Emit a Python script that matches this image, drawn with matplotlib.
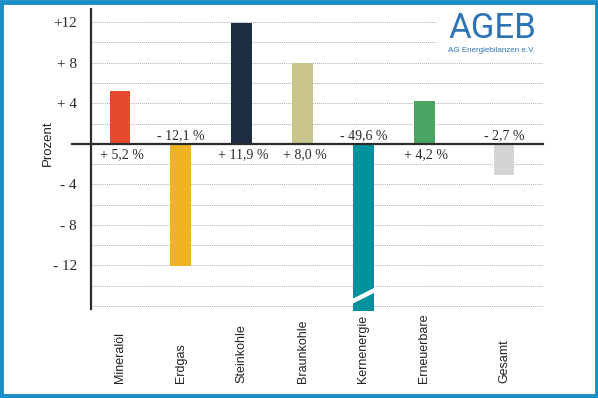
import numpy as np
import matplotlib.pyplot as plt
from matplotlib.patches import Rectangle

# data
categories = ['Mineralöl', 'Erdgas', 'Steinkohle', 'Braunkohle', 'Kernenergie', 'Erneuerbare', 'Gesamt']
positions = [0, 1, 2, 3, 4, 5, 6.31]
bar_values = [5.2, -12.1, 11.9, 8.0, -49.6, 4.2, -3.1]
value_labels = ['+ 5,2 %', '- 12,1 %', '+ 11,9 %', '+ 8,0 %', '- 49,6 %', '+ 4,2 %', '- 2,7 %']
colors = ['#e54a2f', '#f0b323', '#1c2d42', '#c9c48b', '#00919e', '#4aa462', '#d4d4d4']
ytick_vals = [12, 8, 4, -4, -8, -12]
ytick_labels = ['+12', '+ 8', '+ 4', '- 4', '- 8', '- 12']

serif = ['Liberation Serif', 'DejaVu Serif']
sans = ['Liberation Sans', 'DejaVu Sans']

fig = plt.figure(figsize=(5.98, 3.98), dpi=100)
fig.patch.set_facecolor('white')

# blue frame around the picture
fig.patches.append(Rectangle((0.0025, 0.006), 0.995, 0.988, transform=fig.transFigure,
                             fill=False, edgecolor='#1a8cc6', linewidth=3.5, zorder=0))

ax = fig.add_axes([91 / 598, (398 - 311) / 398, (543 - 91) / 598, 302 / 398])
ax.set_xlim(-0.476, 6.95)
ax.set_ylim(-16.5, 13.3)

# dotted grid every 2 units
for g in np.arange(-16, 13, 2):
    if g == 0:
        continue
    xmax = 5.2 if g >= 10 else 6.95
    ax.hlines(g, -0.47, xmax, colors='#b0b0b0', linestyles=(0, (1, 1)), linewidth=0.7, zorder=1)

ax.bar(positions, bar_values, width=0.34, color=colors, zorder=2)

# break mark in the Kernenergie bar
ax.plot([4 - 0.2, 4 + 0.2], [-15.6, -14.4], color='white', linewidth=3.2, zorder=3,
        solid_capstyle='butt')

# zero line
ax.plot([-0.79, 6.95], [0, 0], color='#2b2b2b', linewidth=1.6, clip_on=False, zorder=4)

for x, v, lab in zip(positions, bar_values, value_labels):
    if v >= 0:
        ax.text(x + 0.03, -1.05, lab, ha='center', va='center', fontsize=10,
                family=serif, color='#2a2a2a')
    else:
        ax.text(x, 0.8, lab, ha='center', va='center', fontsize=10,
                family=serif, color='#2a2a2a')

for s in ['top', 'right', 'bottom']:
    ax.spines[s].set_visible(False)
ax.spines['left'].set_bounds(-16.3, 13.3)
ax.spines['left'].set_linewidth(1.6)
ax.spines['left'].set_color('#2b2b2b')

ax.set_xticks([])
ax.set_yticks(ytick_vals)
ax.set_yticklabels(ytick_labels, family=serif, fontsize=11, color='#2a2a2a')
ax.tick_params(axis='y', length=0, pad=10)

fig.text(48 / 598, 1 - 143 / 398, 'Prozent', rotation=90, ha='center', va='center',
         fontsize=9.5, family=sans, color='#222222')

for x, c in zip(positions, categories):
    ax.text(x, -23.6, c, rotation=90, ha='center', va='bottom', fontsize=9,
            family=sans, color='#222222', clip_on=False)

# logo
fig.text(492 / 598, 1 - 29 / 398, 'AGEB', ha='center', va='center', fontsize=25,
         family=['Roboto', 'DejaVu Sans'], color='#2d74b6')
fig.text(491 / 598, 1 - 50 / 398, 'AG Energiebilanzen e.V.', ha='center', va='center',
         fontsize=5.8, family=sans, color='#2d74b6')

fig.savefig('out.png', dpi=100)
